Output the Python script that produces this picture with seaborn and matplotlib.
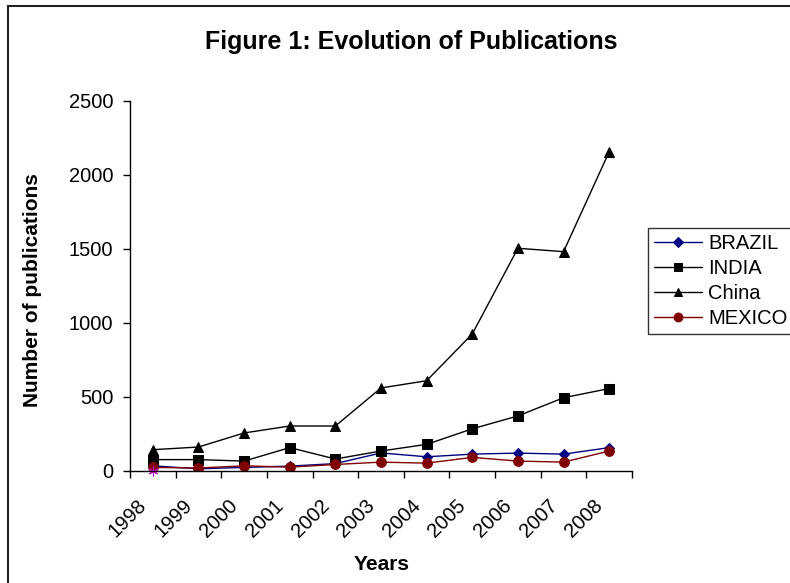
# Figure 1: Evolution of Publications - line chart of publications per country
import numpy as np
import pandas as pd
import matplotlib
matplotlib.use('Agg')
import matplotlib.pyplot as plt
import seaborn as sns
from matplotlib.patches import Rectangle
from matplotlib.transforms import ScaledTranslation

# data
years = [1998, 1999, 2000, 2001, 2002, 2003, 2004, 2005, 2006, 2007, 2008]
brazil = [35, 15, 24, 33, 50, 122, 96, 114, 121, 114, 158]
india = [77, 77, 67, 158, 81, 135, 180, 285, 372, 495, 557]
china = [144, 162, 257, 304, 304, 561, 610, 926, 1505, 1482, 2157]
mexico = [24, 20, 35, 26, 44, 60, 53, 92, 67, 60, 135]
# stray point of a hidden series at 1998
stray_years = [1998]
stray_values = [0]

countries = ['BRAZIL', 'INDIA', 'China', 'MEXICO']
colors = {'BRAZIL': '#000080', 'INDIA': '#000000', 'China': '#000000', 'MEXICO': '#800000'}
markers = {'BRAZIL': 'D', 'INDIA': 's', 'China': '^', 'MEXICO': 'o'}

# long format table for seaborn
df = pd.DataFrame({
    'Years': years * 4,
    'Number of publications': brazil + india + china + mexico,
    'Country': [c for c in countries for _ in years],
})

sns.set_theme(style='white')
plt.rcParams['font.family'] = ['Liberation Sans', 'DejaVu Sans']
plt.rcParams['text.color'] = 'black'
plt.rcParams['axes.labelcolor'] = 'black'
plt.rcParams['xtick.color'] = 'black'
plt.rcParams['ytick.color'] = 'black'

fig = plt.figure(figsize=(7.9, 5.83), dpi=100)
ax = fig.add_axes([130 / 790, 1 - 471 / 583, 502 / 790, 370 / 583])

sns.lineplot(data=df, x='Years', y='Number of publications', hue='Country',
             style='Country', hue_order=countries, style_order=countries,
             palette=colors, markers=markers, dashes=False, linewidth=1,
             markersize=7, ax=ax, legend=False)
for line in ax.lines:
    line.set_markeredgecolor(line.get_color())
# diamonds a bit smaller
ax.lines[0].set_markersize(5.5)

ax.plot(stray_years, stray_values, linestyle='none', marker=(6, 2, 0),
        color='#cc00cc', markersize=7, markeredgewidth=0.8, clip_on=False)

ax.set_xlim(1997.5, 2008.5)
ax.set_ylim(0, 2500)
ax.set_yticks([0, 500, 1000, 1500, 2000, 2500])
ax.set_xticks(np.arange(1997.5, 2009, 1))
ax.set_xticklabels([])
ax.set_xticks(years, minor=True)
ax.set_xticklabels([str(y) for y in years], minor=True, rotation=45,
                   ha='right', va='top', rotation_mode='anchor', fontsize=14.5)
ax.tick_params(axis='x', which='minor', bottom=True, length=0, pad=8)
ax.tick_params(axis='x', which='major', bottom=True, direction='out',
               length=5, width=1, color='black')
ax.tick_params(axis='y', left=True, direction='out', length=5, width=1,
               color='black', labelsize=14.5, pad=7)

# move the year labels down and to the left like the original
shift = ScaledTranslation(-16 / 100, -14 / 100, fig.dpi_scale_trans)
for label in ax.get_xticklabels(minor=True):
    label.set_transform(label.get_transform() + shift)

for side in ['top', 'right']:
    ax.spines[side].set_visible(False)
for side in ['left', 'bottom']:
    ax.spines[side].set_color('black')
    ax.spines[side].set_linewidth(1)

ax.set_xlabel('Years', fontsize=15, fontweight='bold')
ax.set_ylabel('Number of publications', fontsize=15, fontweight='bold')
ax.xaxis.set_label_coords(0.501, -0.227)
ax.yaxis.set_label_coords(-0.175, 0.489)

fig.text(0.521, 1 - 42 / 583, 'Figure 1: Evolution of Publications',
         ha='center', va='center', fontsize=18, fontweight='bold')

# legend built from the plotted lines
handles = ax.lines[:4]
leg = fig.legend(handles, countries, loc='upper left',
                 bbox_to_anchor=(648 / 790, 1 - 228 / 583), fontsize=14.5,
                 frameon=True, fancybox=False, edgecolor='black',
                 handlelength=2.4, handletextpad=0.3, labelspacing=0.3,
                 borderpad=0.3, borderaxespad=0, markerscale=0.9)
leg.get_frame().set_linewidth(1)

# outer chart border (right and bottom edges fall outside the picture)
fig.patches.append(Rectangle((8 / 790, -0.1), 1.2, 1.1 - 6 / 583,
                             transform=fig.transFigure, fill=False,
                             edgecolor='#222222', linewidth=1.5))

fig.savefig('out.png', dpi=100)
